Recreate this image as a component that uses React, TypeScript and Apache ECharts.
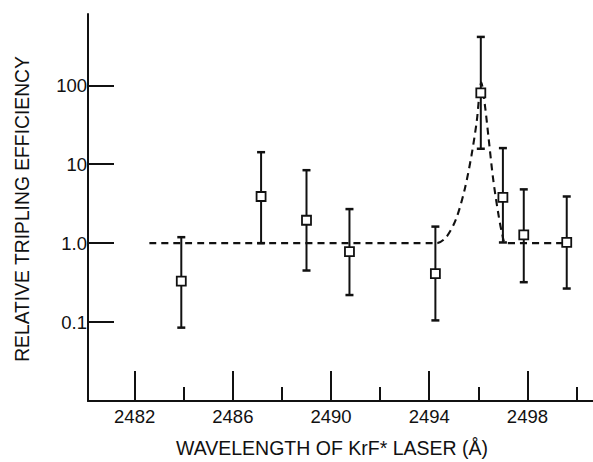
import React, { useEffect, useRef } from "react";
import * as echarts from "echarts";

// Measured points (wavelength in Å, relative tripling efficiency)
const wavelengths = [2483.9, 2487.15, 2489.0, 2490.75, 2494.25, 2496.1, 2497.0, 2497.85, 2499.6];
const efficiency = [0.33, 3.9, 1.95, 0.78, 0.41, 80, 3.8, 1.27, 1.02];
const errLow = [0.085, 1.0, 0.45, 0.22, 0.105, 15.7, 1.02, 0.32, 0.266];
const errHigh = [1.19, 14.2, 8.4, 2.7, 1.62, 410, 16, 4.8, 3.9];

// Dashed fitted curve
const fitX = [2482.6, 2494.3, 2494.7, 2495.1, 2495.45, 2495.72, 2495.93, 2496.12, 2496.27, 2496.42, 2496.6, 2496.8, 2496.98, 2497.12, 2499.8];
const fitY = [1, 1, 1.2, 2.05, 4.9, 12.9, 34, 108, 55, 21, 6.6, 2.5, 1.27, 1.0, 1.0];

// Axis ticks
const xMajorTicks = [2482, 2486, 2490, 2494, 2498];
const xMinorTicks = [2484, 2488, 2492, 2496, 2500];
const yTicks = [0.1, 1, 10, 100];

const FONT = "'Liberation Sans', Arial, Helvetica, sans-serif";
const INK = "#111";

export default function App() {
  const ref = useRef<HTMLDivElement>(null);

  useEffect(() => {
    if (!ref.current) return;
    const chart = echarts.init(ref.current, null, { renderer: "svg" });

    const errData = wavelengths.map((x, i) => [x, errLow[i], errHigh[i]]);
    const pts = wavelengths.map((x, i) => [x, efficiency[i]]);
    const fit = fitX.map((x, i) => [x, fitY[i]]);

    const xCommon = {
      type: "value" as const,
      min: 2480.1,
      max: 2500.67,
      position: "bottom" as const,
      splitLine: { show: false },
    };

    chart.setOption({
      animation: false,
      backgroundColor: "#fff",
      grid: { left: 88, right: 0, top: 14, bottom: 61, containLabel: false },
      xAxis: [
        {
          ...xCommon,
          axisLine: { show: true, lineStyle: { color: INK, width: 2 } },
          axisTick: {
            show: true,
            inside: true,
            length: 30,
            lineStyle: { color: INK, width: 2 },
            customValues: xMajorTicks,
          },
          axisLabel: {
            show: true,
            margin: 6,
            color: INK,
            fontSize: 18.5,
            fontFamily: FONT,
            customValues: xMajorTicks,
            formatter: (v: number) => String(Math.round(v)),
          },
        },
        {
          ...xCommon,
          axisLine: { show: false },
          axisTick: {
            show: true,
            inside: true,
            length: 14,
            lineStyle: { color: INK, width: 2 },
            customValues: xMinorTicks,
          },
          axisLabel: { show: false },
        },
      ],
      yAxis: {
        type: "log",
        logBase: 10,
        min: 0.01,
        max: 800,
        splitLine: { show: false },
        axisLine: { show: true, lineStyle: { color: INK, width: 2 } },
        axisTick: {
          show: true,
          inside: true,
          length: 26,
          lineStyle: { color: INK, width: 2 },
          customValues: yTicks,
        },
        axisLabel: {
          show: true,
          margin: 1,
          color: INK,
          fontSize: 18.5,
          fontFamily: FONT,
          customValues: yTicks,
          formatter: (v: number) => (v >= 10 ? String(Math.round(v)) : v.toFixed(1)),
        },
      },
      graphic: [
        {
          type: "text",
          x: 22,
          y: 209,
          rotation: Math.PI / 2,
          style: {
            text: "RELATIVE TRIPLING EFFICIENCY",
            fill: INK,
            font: `19.3px ${FONT}`,
            align: "center",
            verticalAlign: "middle",
          },
        },
        {
          type: "text",
          x: 332,
          y: 448,
          style: {
            text: "WAVELENGTH OF KrF* LASER (Å)",
            fill: INK,
            font: `19.5px ${FONT}`,
            align: "center",
            verticalAlign: "middle",
          },
        },
      ],
      series: [
        {
          type: "line",
          xAxisIndex: 0,
          data: fit,
          smooth: 0.3,
          symbol: "none",
          lineStyle: { color: INK, width: 2.1, type: [7, 5] },
          z: 2,
        },
        {
          type: "custom",
          xAxisIndex: 0,
          data: errData,
          renderItem: (params: any, api: any) => {
            const x = api.value(0);
            const lo = api.coord([x, api.value(1)]);
            const hi = api.coord([x, api.value(2)]);
            const cap = 4;
            const st = { stroke: INK, lineWidth: 2 };
            return {
              type: "group",
              children: [
                { type: "line", shape: { x1: hi[0], y1: hi[1], x2: lo[0], y2: lo[1] }, style: st },
                { type: "line", shape: { x1: hi[0] - cap, y1: hi[1], x2: hi[0] + cap, y2: hi[1] }, style: { stroke: INK, lineWidth: 2.5 } },
                { type: "line", shape: { x1: lo[0] - cap, y1: lo[1], x2: lo[0] + cap, y2: lo[1] }, style: { stroke: INK, lineWidth: 2.5 } },
              ],
            };
          },
          z: 3,
        },
        {
          type: "scatter",
          xAxisIndex: 0,
          data: pts,
          symbol: "rect",
          symbolSize: 9,
          itemStyle: { color: "#fff", borderColor: INK, borderWidth: 1.8, opacity: 1 },
          z: 4,
        },
      ],
    });

    return () => chart.dispose();
  }, []);

  return (
    <div
      ref={ref}
      style={{ position: "absolute", left: 0, top: 0, width: 593, height: 462, background: "#fff" }}
    />
  );
}
